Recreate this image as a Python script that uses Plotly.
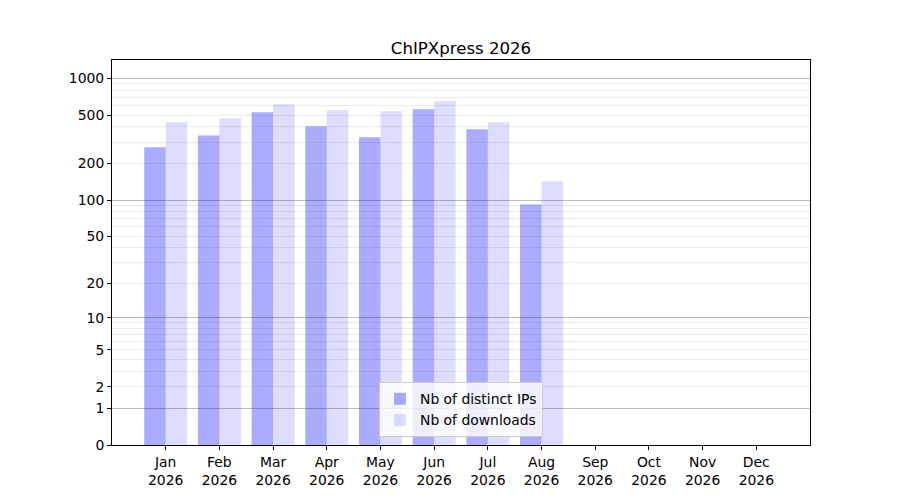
import numpy as np
import plotly.graph_objects as go

# Dati (scala log(1+x))
months = ["Jan", "Feb", "Mar", "Apr", "May", "Jun", "Jul", "Aug", "Sep", "Oct", "Nov", "Dec"]
year = "2026"
distinct_ips = [272, 341, 527, 405, 329, 558, 383, 92, 0, 0, 0, 0]
downloads = [437, 471, 613, 548, 537, 649, 437, 143, 0, 0, 0, 0]
tick_labels = [0, 1, 2, 5, 10, 20, 50, 100, 200, 500, 1000]
major_grid = [1, 10, 100, 1000]
minor_grid = [2, 3, 4, 5, 6, 7, 8, 9, 20, 30, 40, 50, 60, 70, 80, 90,
              200, 300, 400, 500, 600, 700, 800, 900]


def tr(v):
    return np.log10(1 + np.asarray(v, dtype=float))


x = list(range(len(months)))
xlabels = [f"{m}<br>{year}" for m in months]
font = "DejaVu Sans"

fig = go.Figure()
fig.add_trace(go.Bar(x=x, y=tr(distinct_ips), name="Nb of distinct IPs",
                     marker=dict(color="rgba(0,0,255,0.33)", line=dict(width=0))))
fig.add_trace(go.Bar(x=x, y=tr(downloads), name="Nb of downloads",
                     marker=dict(color="rgba(0,0,255,0.134)", line=dict(width=0))))

yrange = [0, 3.151]
fig.update_layout(
    width=900, height=500,
    margin=dict(l=104, r=98, t=52, b=63),
    paper_bgcolor="white", plot_bgcolor="white",
    font=dict(family=font, size=13.9, color="black"),
    title=dict(text="ChIPXpress 2026", x=0.5, xref="paper", xanchor="center",
               y=1, yref="paper", yanchor="bottom", pad=dict(b=6),
               font=dict(size=16.6, family=font)),
    barmode="group", bargap=0.2, bargroupgap=0,
    showlegend=True,
    legend=dict(x=0.5, xanchor="center", y=0.02, yanchor="bottom",
                bgcolor="rgba(255,255,255,0.8)", bordercolor="#cccccc", borderwidth=1,
                font=dict(size=13.9, family=font)),
    xaxis=dict(range=[-1, 12], tickmode="array", tickvals=x, ticktext=xlabels,
               showgrid=False, ticks="outside", ticklen=4, tickcolor="black",
               showline=True, linecolor="black", linewidth=1, mirror=True,
               zeroline=False),
    yaxis=dict(range=yrange, tickmode="array", tickvals=tr(tick_labels),
               ticktext=[str(t) for t in tick_labels],
               showgrid=False, ticks="outside", ticklen=4, tickcolor="black",
               showline=True, linecolor="black", linewidth=1, mirror=True,
               zeroline=False,
               minor=dict(tickmode="array", tickvals=tr(minor_grid), showgrid=True,
                          gridcolor="#ebebeb", gridwidth=1, ticks="")),
    yaxis2=dict(range=yrange, overlaying="y", tickmode="array", tickvals=tr(major_grid),
                showticklabels=False, ticks="", showgrid=True, gridcolor="#bdbdbd",
                gridwidth=1, zeroline=False, showline=False),
)
# trace fantasma per attivare l'asse secondario della griglia
fig.add_trace(go.Scatter(x=[None], y=[None], yaxis="y2", showlegend=False, hoverinfo="skip"))

fig.write_html("out.html")
